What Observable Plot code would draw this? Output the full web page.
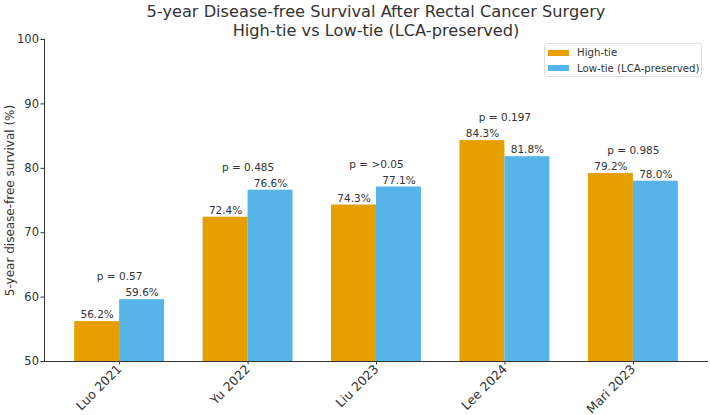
<!DOCTYPE html>
<html>
<head>
<meta charset="utf-8">
<script src="https://cdn.jsdelivr.net/npm/d3@7"></script>
<script src="https://cdn.jsdelivr.net/npm/@observablehq/plot@0.6"></script>
<style>
  body { margin: 0; background: #fff; font-family: "DejaVu Sans", sans-serif; }
  #fig { position: relative; width: 710px; height: 415px; }
  #title {
    position: absolute; left: 44px; width: 664px; top: 2px;
    text-align: center; font-size: 16.2px; line-height: 19px; color: #333;
  }
  #legend {
    position: absolute; left: 544px; top: 43px; width: 156px; height: 32px;
    border: 1px solid #ddd; border-radius: 3px; background: rgba(255,255,255,0.85);
    font-size: 10.2px; color: #333;
  }
  #legend .row { position: absolute; left: 3px; height: 13px; display: flex; align-items: center; white-space: nowrap; }
  #legend .sw { width: 21px; height: 6px; margin-right: 8px; }
</style>
</head>
<body>
<div id="fig">
  <div id="title">5-year Disease-free Survival After Rectal Cancer Surgery<br>High-tie vs Low-tie (LCA-preserved)</div>
  <div id="legend"></div>
</div>
<script>
// Studies and their 5-year disease-free survival (%)
const studies = ["Luo 2021", "Yu 2022", "Liu 2023", "Lee 2024", "Mari 2023"];
const highTie = [56.2, 72.4, 74.3, 84.3, 79.2];
const lowTie = [59.6, 76.6, 77.1, 81.8, 78.0];
const pValues = ["0.57", "0.485", ">0.05", "0.197", "0.985"];
const seriesNames = ["High-tie", "Low-tie (LCA-preserved)"];
const seriesColors = ["#E69F00", "#56B4E9"];
const yTicks = [50, 60, 70, 80, 90, 100];

const barWidth = 0.35;
const xDomain = [-barWidth - 0.235, studies.length - 1 + barWidth + 0.235];
const yBase = 50;

const bars = [];
studies.forEach((s, i) => {
  bars.push({i, series: seriesNames[0], value: highTie[i], x1: i - barWidth, x2: i});
  bars.push({i, series: seriesNames[1], value: lowTie[i], x1: i, x2: i + barWidth});
});
const groups = studies.map((s, i) => ({i, p: pValues[i], top: Math.max(highTie[i], lowTie[i])}));

const chart = Plot.plot({
  width: 710,
  height: 415,
  marginTop: 39,
  marginBottom: 54,
  marginLeft: 44,
  marginRight: 2,
  style: {fontFamily: "DejaVu Sans, sans-serif", color: "#333", background: "white"},
  x: {type: "linear", domain: xDomain},
  y: {domain: [yBase, 100]},
  color: {domain: seriesNames, range: seriesColors},
  marks: [
    Plot.rect(bars, {x1: "x1", x2: "x2", y1: () => yBase, y2: "value", fill: "series"}),
    Plot.text(bars, {
      x: d => (d.x1 + d.x2) / 2, y: d => d.value + 0.5, text: d => d.value.toFixed(1) + "%",
      lineAnchor: "bottom", fontSize: 10.5, fill: "#333"
    }),
    Plot.text(groups, {
      x: "i", y: d => d.top + 3, text: d => "p = " + d.p,
      lineAnchor: "bottom", fontSize: 10.5, fill: "#333"
    }),
    Plot.ruleY([yBase], {stroke: "#333", strokeWidth: 1}),
    Plot.ruleX([xDomain[0]], {stroke: "#333", strokeWidth: 1}),
    Plot.axisY({ticks: yTicks, tickSize: 3.5, tickPadding: 2, fontSize: 11.5, label: null, stroke: "#333"}),
    Plot.axisX({
      ticks: d3.range(studies.length), tickFormat: i => studies[i],
      tickSize: 3.5, tickPadding: 2, tickRotate: -45, fontSize: 12.5, label: null, stroke: "#333"
    }),
    Plot.text(["5-year disease-free survival (%)"], {
      frameAnchor: "left", dx: -34, rotate: -90, textAnchor: "middle", fontSize: 12, fill: "#333"
    })
  ]
});
document.getElementById("fig").prepend(chart);
chart.style.position = "absolute";
chart.style.left = "0";
chart.style.top = "0";

// Legend
const legend = document.getElementById("legend");
seriesNames.forEach((name, k) => {
  const row = document.createElement("div");
  row.className = "row";
  row.style.top = (2 + k * 15.5) + "px";
  const sw = document.createElement("span");
  sw.className = "sw";
  sw.style.background = seriesColors[k];
  const label = document.createElement("span");
  label.textContent = name;
  row.append(sw, label);
  legend.append(row);
});
</script>
</body>
</html>
